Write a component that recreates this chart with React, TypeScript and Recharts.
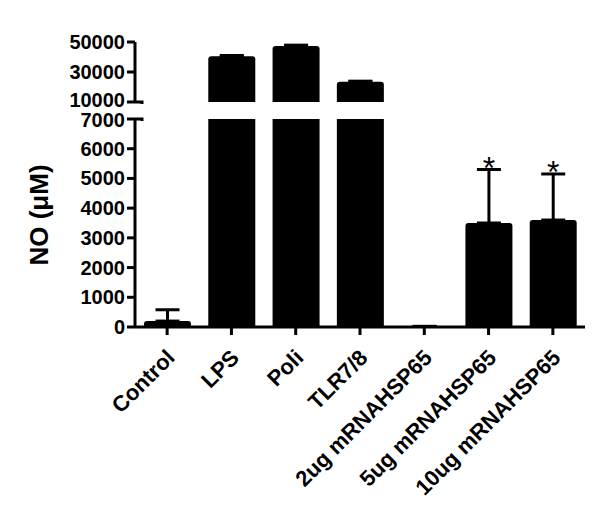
import { BarChart, Bar, XAxis, YAxis, ErrorBar, Rectangle } from "recharts";

const categories = ["Control", "LPS", "Poli", "TLR7/8", "2ug mRNAHSP65", "5ug mRNAHSP65", "10ug mRNAHSP65"];
const meanNO = [200, 40500, 47300, 23500, 20, 3500, 3600];
const sdNO = [380, 500, 600, 400, 0, 1800, 1550];
const significant = [false, false, false, false, false, true, true];

const upperTicks = [10000, 30000, 50000];
const lowerTicks = [0, 1000, 2000, 3000, 4000, 5000, 6000, 7000];
const upperDomain = [10000, 50000];
const lowerDomain = [0, 7000];

const data = categories.map((name, i) => ({
  name,
  mean: meanNO[i],
  sd: sdNO[i],
  star: significant[i],
  upper: meanNO[i] > upperDomain[0] ? meanNO[i] : null,
  upperErr: meanNO[i] > upperDomain[0] ? [0, sdNO[i]] : null,
  lowerErr: meanNO[i] <= lowerDomain[1] ? [0, sdNO[i]] : null,
}));

const FONT = "'Liberation Sans', Arial, sans-serif";
const W = 600;
const LEFT = 135;
const RIGHT = 15;

// tick label plus the little hook that marks the axis break;
// labels next to the break are nudged apart a little so they don't collide
function BreakTick(props: any) {
  const { x, y, payload, breakAt, hookDir, nudge } = props;
  const axisX = x + 10;
  const isBreak = payload.value === breakAt;
  return (
    <g>
      <text x={x} y={y} dy={7 + (isBreak ? nudge : 0)} textAnchor="end" fontFamily={FONT} fontWeight="bold" fontSize={20} fill="#000">
        {payload.value}
      </text>
      {isBreak && (
        <path d={`M${axisX},${y} L${axisX + 7},${y} L${axisX + 7},${y + hookDir * 2}`} stroke="#000" strokeWidth={3} fill="none" />
      )}
    </g>
  );
}

function CategoryTick(props: any) {
  const { x, y, payload } = props;
  const tx = x + 9;
  const ty = y + 22;
  return (
    <text x={tx} y={ty} transform={`rotate(-45, ${tx}, ${ty})`} textAnchor="end" fontFamily={FONT} fontWeight="bold" fontSize={22} fill="#000">
      {payload.value}
    </text>
  );
}

function LowerBar(props: any) {
  const { x, y, width, height, payload } = props;
  let star = null;
  if (payload.star && payload.mean > 0) {
    const errTop = y - (payload.sd * height) / payload.mean;
    star = (
      <text x={x + width / 2} y={errTop + 9} textAnchor="middle" fontFamily={FONT} fontSize={32} fill="#000">
        *
      </text>
    );
  }
  return (
    <g>
      <Rectangle x={x} y={y} width={width} height={height} radius={[3, 3, 0, 0]} fill="#000" />
      {star}
    </g>
  );
}

export default function App() {
  return (
    <div style={{ position: "absolute", left: 0, top: 0, width: W, height: 518, background: "#fff" }}>
      <div style={{ position: "absolute", left: 0, top: 0 }}>
        <BarChart width={W} height={118} data={data} margin={{ top: 42, right: RIGHT, bottom: 16, left: 0 }}>
          <XAxis dataKey="name" hide />
          <YAxis
            width={LEFT}
            domain={upperDomain}
            ticks={upperTicks}
            interval={0}
            allowDataOverflow
            axisLine={{ stroke: "#000", strokeWidth: 3 }}
            tickLine={{ stroke: "#000", strokeWidth: 3 }}
            tickSize={8}
            tickMargin={2}
            tick={<BreakTick breakAt={10000} hookDir={1} nudge={-2} />}
          />
          <Bar dataKey="upper" fill="#000" barSize={47} radius={[3, 3, 0, 0]} isAnimationActive={false}>
            <ErrorBar dataKey="upperErr" width={12} stroke="#000" strokeWidth={3} direction="y" />
          </Bar>
        </BarChart>
      </div>
      <div style={{ position: "absolute", left: 0, top: 0 }}>
        <BarChart width={W} height={518} data={data} margin={{ top: 119, right: RIGHT, bottom: 0, left: 0 }}>
          <XAxis
            dataKey="name"
            height={191}
            interval={0}
            axisLine={{ stroke: "#000", strokeWidth: 3 }}
            tickLine={{ stroke: "#000", strokeWidth: 3 }}
            tickSize={8}
            tick={<CategoryTick />}
          />
          <YAxis
            width={LEFT}
            domain={lowerDomain}
            ticks={lowerTicks}
            interval={0}
            allowDataOverflow
            axisLine={{ stroke: "#000", strokeWidth: 3 }}
            tickLine={{ stroke: "#000", strokeWidth: 3 }}
            tickSize={8}
            tickMargin={2}
            tick={<BreakTick breakAt={7000} hookDir={1} nudge={1} />}
            label={(p: any) => {
              const vb = p.viewBox;
              const cx = vb.x + 39;
              const cy = vb.y + vb.height / 2 - 8;
              return (
                <text x={cx} y={cy} transform={`rotate(-90, ${cx}, ${cy})`} textAnchor="middle" dominantBaseline="central" fontFamily={FONT} fontWeight="bold" fontSize={26} fill="#000">
                  NO (μM)
                </text>
              );
            }}
          />
          <Bar dataKey="mean" fill="#000" barSize={47} shape={<LowerBar />} isAnimationActive={false}>
            <ErrorBar dataKey="lowerErr" width={12} stroke="#000" strokeWidth={3} direction="y" />
          </Bar>
        </BarChart>
      </div>
    </div>
  );
}
